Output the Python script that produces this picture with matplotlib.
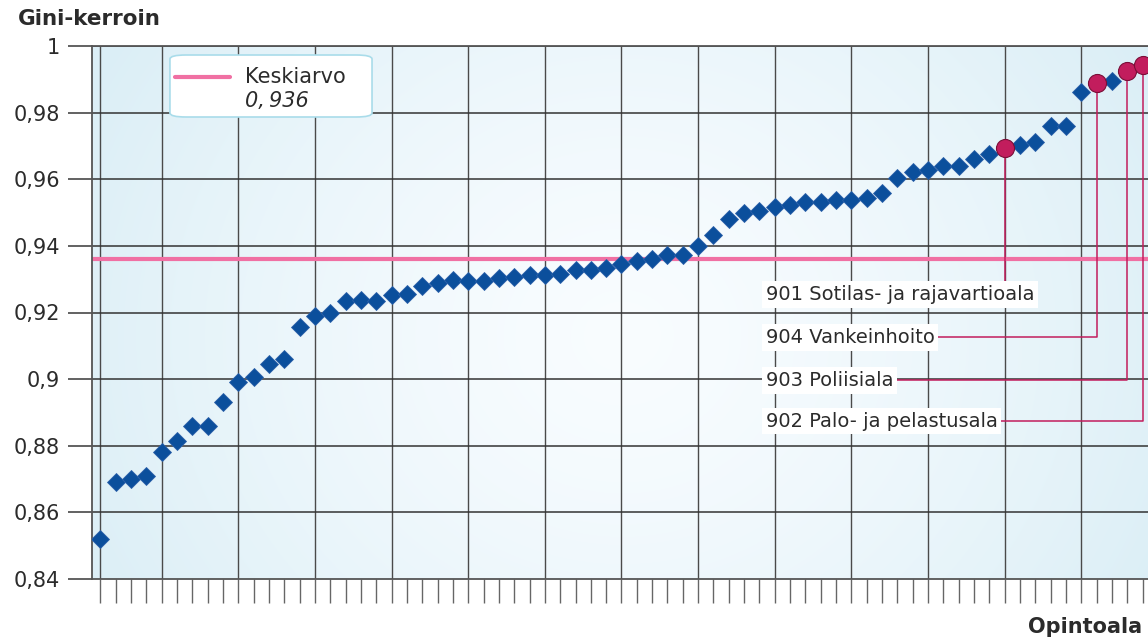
import numpy as np
import matplotlib
matplotlib.use("Agg")
from matplotlib import pyplot as plt
from matplotlib.patches import FancyBboxPatch
from matplotlib.ticker import FuncFormatter, MultipleLocator

# Gini coefficient per field of study, sorted ascending
gini = [0.852, 0.869, 0.870, 0.871, 0.878, 0.8815, 0.886, 0.886, 0.893, 0.899,
        0.9005, 0.9044, 0.906, 0.9157, 0.919, 0.920, 0.9236, 0.9239, 0.9236, 0.9252,
        0.9256, 0.928, 0.929, 0.9298, 0.9294, 0.9296, 0.9305, 0.9307, 0.9312, 0.9312,
        0.9317, 0.9329, 0.9329, 0.9334, 0.9345, 0.9354, 0.936, 0.9373, 0.9372, 0.940,
        0.9432, 0.948, 0.950, 0.9505, 0.9518, 0.9523, 0.9532, 0.9533, 0.9538, 0.9538,
        0.9543, 0.9558, 0.9603, 0.9622, 0.9627, 0.964, 0.964, 0.966, 0.9676, 0.9695,
        0.9703, 0.9713, 0.9761, 0.9761, 0.9863, 0.9889, 0.9896, 0.9926, 0.9943]
mean_gini = 0.936

# highlighted fields: rank position (1-based) and label
hl_rank = [60, 66, 68, 69]
hl_label = ["901 Sotilas- ja rajavartioala", "904 Vankeinhoito",
            "903 Poliisiala", "902 Palo- ja pelastusala"]
hl_label_y = [0.9253, 0.9126, 0.8997, 0.8874]
label_x = 44.4

blue = "#0b4f9c"
crimson = "#c21d5d"
pink = "#f070a3"

fig = plt.figure(figsize=(11.48, 6.39), dpi=100)
ax = fig.add_axes([92 / 1148, 1 - 579 / 639, 1073.7 / 1148, 533 / 639])

x = np.arange(1, len(gini) + 1)
xlim = (0.46, 70.5)
ylim = (0.84, 1.0)

# radial background gradient
h, w = 533, 1074
yy, xx = np.mgrid[0:h, 0:w]
d = np.sqrt((xx - 530) ** 2 + ((yy - 290) * 1.1) ** 2) / 600
d = np.clip(d, 0, 1)
c0 = np.array([0.975, 0.99, 1.0])
c1 = np.array([0.86, 0.935, 0.965])
img = c0[None, None, :] * (1 - d[..., None] ** 1.4) + c1[None, None, :] * d[..., None] ** 1.4
ax.imshow(img, extent=(xlim[0], xlim[1], ylim[0], ylim[1]), aspect="auto",
          origin="upper", zorder=0)

ax.set_xlim(*xlim)
ax.set_ylim(*ylim)

# grid
for gx in range(5, 70, 5):
    ax.axvline(gx, color="#4a4a4a", lw=1.0, zorder=1)
ax.axvline(1, color="#4a4a4a", lw=1.0, zorder=1)
for gy in np.arange(0.86, 1.0, 0.02):
    ax.axhline(gy, color="#333333", lw=1.1, zorder=1)

ax.axhline(mean_gini, color=pink, lw=3, zorder=2)

# connectors for the highlighted fields
for r, ly in zip(hl_rank, hl_label_y):
    px, py = x[r - 1], gini[r - 1]
    ax.plot([label_x, px, px], [ly, ly, py], color=crimson, lw=1.1, zorder=3)

ax.plot(x, gini, ls="none", marker="D", ms=9.5, color=blue,
        markeredgecolor="#2a5fa8", markeredgewidth=0.6, zorder=4)
hx = [x[r - 1] for r in hl_rank]
hy = [gini[r - 1] for r in hl_rank]
ax.plot(hx, hy, ls="none", marker="o", ms=13, color=crimson,
        markeredgecolor="#7a0f38", markeredgewidth=0.8, zorder=5)

for lab, ly in zip(hl_label, hl_label_y):
    ax.text(label_x, ly, lab, fontsize=14, color="#2b2b2b", va="center",
            ha="left", zorder=6,
            bbox=dict(boxstyle="square,pad=0.2", fc="white", ec="none"))

# ticks and spines
ax.xaxis.set_major_locator(MultipleLocator(1))
ax.yaxis.set_major_locator(MultipleLocator(0.02))
ax.tick_params(axis="x", length=17, width=1, color="#666666", labelbottom=False)
ax.tick_params(axis="y", length=17, width=1.3, color="#555555", pad=6,
               labelsize=15, labelcolor="#2b2b2b")
ax.yaxis.set_major_formatter(FuncFormatter(
    lambda v, p: f"{round(v, 2):g}".replace(".", ",")))
for s in ["left", "top", "bottom"]:
    ax.spines[s].set_color("#555555")
    ax.spines[s].set_linewidth(1.3)
ax.spines["right"].set_visible(False)

# legend box
tr = ax.transAxes
ax.add_patch(FancyBboxPatch((0.0726, 0.8668), 0.1882, 0.1163,
                            boxstyle="round,pad=0,rounding_size=0.015",
                            transform=tr, fc="white", ec="#a9dcea", lw=1.2,
                            zorder=7, mutation_aspect=533 / 1073.7))
ax.plot([0.0773, 0.1285], [0.9418, 0.9418], transform=tr, color=pink, lw=3,
        zorder=8, solid_capstyle="round")
ax.text(0.1425, 0.9418, "Keskiarvo", transform=tr, fontsize=15, va="center",
        color="#2b2b2b", zorder=8)
ax.text(0.1425, 0.8968, "0,\u2009936", transform=tr, fontsize=15,
        style="italic", va="center", color="#2b2b2b", zorder=8)

fig.text(18 / 1148, 1 - 19 / 639, "Gini-kerroin", fontsize=15.5,
         fontweight="bold", color="#2b2b2b", va="center", ha="left")
fig.text(1142 / 1148, 1 - 627 / 639, "Opintoala", fontsize=15,
         fontweight="bold", color="#2b2b2b", va="center", ha="right")

fig.savefig("out.png", dpi=100)
